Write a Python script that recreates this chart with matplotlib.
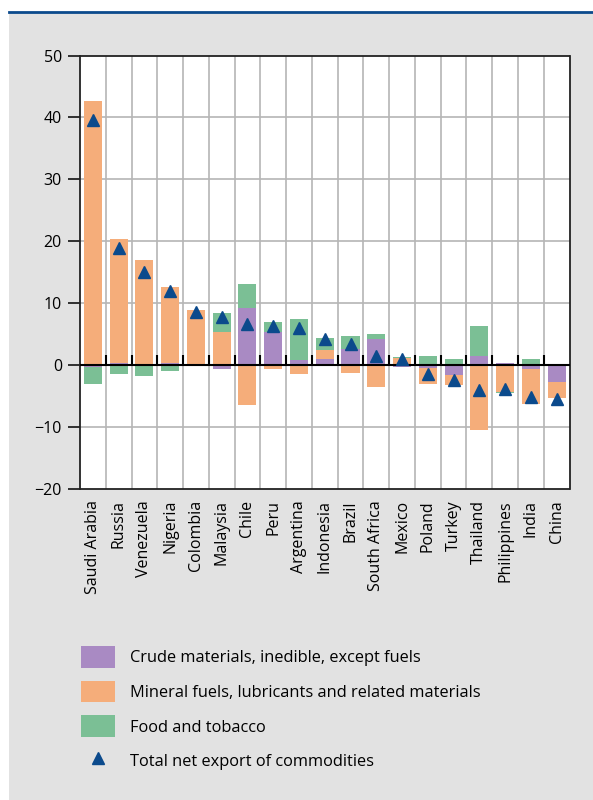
import matplotlib
matplotlib.use("Agg")
import matplotlib.pyplot as plt
import numpy as np
from matplotlib.patches import Patch, Rectangle
from matplotlib.lines import Line2D

plt.rcParams["font.family"] = ["Open Sans", "DejaVu Sans"]

countries = ["Saudi Arabia", "Russia", "Venezuela", "Nigeria", "Colombia",
             "Malaysia", "Chile", "Peru", "Argentina", "Indonesia", "Brazil",
             "South Africa", "Mexico", "Poland", "Turkey", "Thailand",
             "Philippines", "India", "China"]

# net exports by commodity group (per cent of GDP)
crude = [-0.3, 0.4, 0.0, 0.3, 0.2, -0.65, 9.3, 5.4, 0.8, 1.0, 2.6,
         4.2, -0.3, -0.5, -1.6, 1.5, 0.3, -0.65, -2.75]
fuels = [42.6, 19.9, 16.9, 12.35, 8.7, 5.35, -6.5, -0.65, -1.4, 1.4, -1.3,
         -3.6, 1.2, -2.6, -1.6, -10.4, -4.3, -5.55, -2.6]
food = [-2.7, -1.4, -1.7, -0.9, 0.0, 3.05, 3.8, 1.6, 6.7, 2.0, 2.1,
        0.8, 0.1, 1.46, 1.0, 4.8, -0.15, 1.0, 0.0]
total = [39.6, 18.9, 15.1, 11.9, 8.6, 7.8, 6.7, 6.3, 6.0, 4.3, 3.4,
         1.4, 1.0, -1.5, -2.4, -4.0, -3.9, -5.2, -5.4]

yticks = [-20, -10, 0, 10, 20, 30, 40, 50]

c_crude = "#a98ac3"
c_fuels = "#f5ad7a"
c_food = "#7bbf95"
c_total = "#0b4a8c"
bg = "#e2e2e2"

fig = plt.figure(figsize=(5.93, 8.0), dpi=100)
fig.patch.set_facecolor("white")
fig.patches.append(Rectangle((9 / 593, 0), 1, 1 - 12 / 800,
                             transform=fig.transFigure, facecolor=bg,
                             edgecolor="none", zorder=-10))
fig.add_artist(Line2D([9 / 593, 1], [1 - 12 / 800, 1 - 12 / 800],
                      transform=fig.transFigure, color="#0b4a8c", lw=2))

ax = fig.add_axes([80 / 593, 1 - 489 / 800, (569.5 - 80) / 593, (489 - 55.5) / 800])
ax.set_facecolor("white")

x = np.arange(len(countries))
pos_base = np.zeros(len(countries))
neg_base = np.zeros(len(countries))
for vals, col in [(crude, c_crude), (fuels, c_fuels), (food, c_food)]:
    v = np.array(vals)
    base = np.where(v >= 0, pos_base, neg_base)
    ax.bar(x, v, width=0.7, bottom=base, color=col, zorder=2)
    pos_base = pos_base + np.clip(v, 0, None)
    neg_base = neg_base + np.clip(v, None, 0)

ax.plot(x, total, linestyle="none", marker="^", markersize=9,
        color=c_total, zorder=4)

ax.set_xlim(-0.5, len(countries) - 0.5)
ax.set_ylim(-20, 50)
ax.set_yticks(yticks)
ax.set_xticks(x)
ax.set_xticklabels(countries, rotation=90)

bounds = np.arange(0.5, len(countries) - 0.5, 1)
for b in bounds:
    ax.axvline(b, color="#b5b5b5", lw=1.2, zorder=1)
for t in yticks[1:-1]:
    ax.axhline(t, color="#b5b5b5", lw=1.2, zorder=1)
ax.axhline(0, color="black", lw=1.5, zorder=3)
ax.vlines(bounds, 0, 1.6, color="black", lw=1.5, zorder=3)

for s in ax.spines.values():
    s.set_color("#222222")
    s.set_linewidth(1.3)
ax.tick_params(axis="y", length=9, width=1.3, labelsize=11.5, pad=4, color="#222222")
ax.tick_params(axis="x", length=0, labelsize=11.5, pad=8)

handles = [Patch(facecolor=c_crude), Patch(facecolor=c_fuels), Patch(facecolor=c_food),
           Line2D([], [], linestyle="none", marker="^", markersize=9, color=c_total)]
labels = ["Crude materials, inedible, except fuels",
          "Mineral fuels, lubricants and related materials",
          "Food and tobacco",
          "Total net export of commodities"]
fig.legend(handles, labels, loc="upper left", bbox_to_anchor=(81 / 593, 1 - 646 / 800),
           frameon=False, fontsize=11.8, handlelength=2.1, handleheight=1.65,
           labelspacing=0.8, handletextpad=0.87, borderpad=0, borderaxespad=0)

fig.savefig("out.png", dpi=100, facecolor=fig.get_facecolor())
